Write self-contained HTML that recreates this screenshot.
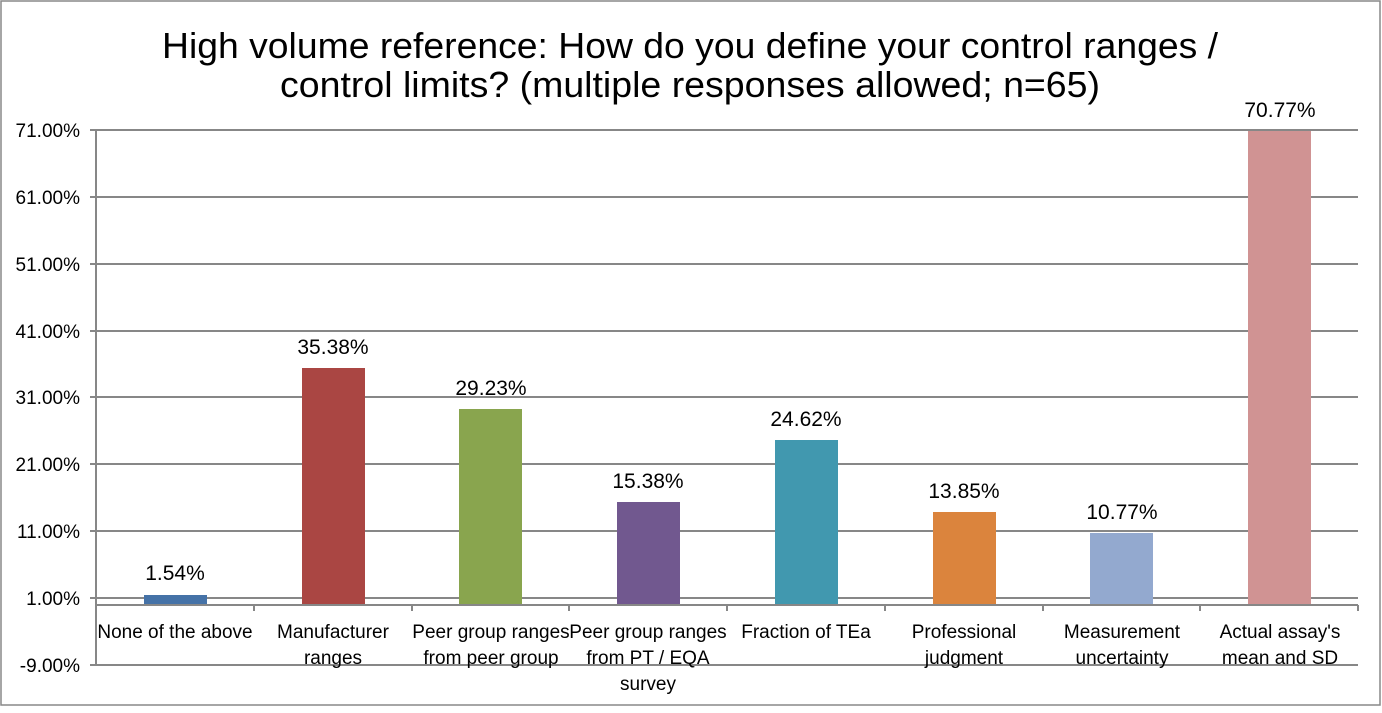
<!DOCTYPE html>
<html><head><meta charset="utf-8"><style>
body{margin:0;background:#fff;}
svg text{font-family:"Liberation Sans",Arial,sans-serif;}
</style></head><body>
<svg width="1382" height="708" xmlns="http://www.w3.org/2000/svg">
<rect x="1" y="1" width="1379" height="704" fill="#fff" stroke="#888" stroke-width="1.5"/>
<text x="690" y="58" font-size="36" text-anchor="middle" fill="#000" textLength="1056" lengthAdjust="spacingAndGlyphs">High volume reference: How do you define your control ranges /</text>
<text x="690" y="97" font-size="36" text-anchor="middle" fill="#000" textLength="820" lengthAdjust="spacingAndGlyphs">control limits? (multiple responses allowed; n=65)</text>
<g stroke="#878787" stroke-width="2">
<line x1="90" y1="130" x2="1358" y2="130"/>
<line x1="90" y1="197" x2="1358" y2="197"/>
<line x1="90" y1="264" x2="1358" y2="264"/>
<line x1="90" y1="331" x2="1358" y2="331"/>
<line x1="90" y1="397" x2="1358" y2="397"/>
<line x1="90" y1="464" x2="1358" y2="464"/>
<line x1="90" y1="531" x2="1358" y2="531"/>
<line x1="90" y1="598" x2="1358" y2="598"/>
<line x1="90" y1="665" x2="1358" y2="665"/>
<line x1="96" y1="130" x2="96" y2="665"/>
</g>
<g font-size="19" fill="#000" text-anchor="end">
<text x="80" y="137">71.00%</text><text x="80" y="204">61.00%</text><text x="80" y="271">51.00%</text>
<text x="80" y="338">41.00%</text><text x="80" y="404">31.00%</text><text x="80" y="471">21.00%</text>
<text x="80" y="538">11.00%</text><text x="80" y="605">1.00%</text><text x="80" y="672">-9.00%</text>
</g>
<g>
<rect x="144" y="595" width="63" height="10" fill="#4572a7"/>
<rect x="302" y="368" width="63" height="237" fill="#aa4643"/>
<rect x="459" y="409" width="63" height="196" fill="#89a54e"/>
<rect x="617" y="502" width="63" height="103" fill="#71588f"/>
<rect x="775" y="440" width="63" height="165" fill="#4198af"/>
<rect x="933" y="512" width="63" height="93" fill="#db843d"/>
<rect x="1090" y="533" width="63" height="72" fill="#93a9cf"/>
<rect x="1248" y="131" width="63" height="474" fill="#d09393"/>
</g>
<g stroke="#878787" stroke-width="2">
<line x1="96" y1="605" x2="1358" y2="605"/>
<line x1="254" y1="605" x2="254" y2="611"/><line x1="412" y1="605" x2="412" y2="611"/>
<line x1="569" y1="605" x2="569" y2="611"/><line x1="727" y1="605" x2="727" y2="611"/>
<line x1="885" y1="605" x2="885" y2="611"/><line x1="1043" y1="605" x2="1043" y2="611"/>
<line x1="1200" y1="605" x2="1200" y2="611"/><line x1="1358" y1="605" x2="1358" y2="611"/>
</g>
<g font-size="21" fill="#000" text-anchor="middle">
<text x="175" y="580">1.54%</text><text x="333" y="354">35.38%</text><text x="491" y="395">29.23%</text>
<text x="648" y="488">15.38%</text><text x="806" y="426">24.62%</text><text x="964" y="498">13.85%</text>
<text x="1122" y="519">10.77%</text><text x="1280" y="117">70.77%</text>
</g>
<g font-size="19" fill="#000" text-anchor="middle">
<text x="175" y="638">None of the above</text>
<text x="333" y="638">Manufacturer</text><text x="333" y="664">ranges</text>
<text x="491" y="638">Peer group ranges</text><text x="491" y="664">from peer group</text>
<text x="648" y="638">Peer group ranges</text><text x="648" y="664">from PT / EQA</text><text x="648" y="690">survey</text>
<text x="806" y="638">Fraction of TEa</text>
<text x="964" y="638">Professional</text><text x="964" y="664">judgment</text>
<text x="1122" y="638">Measurement</text><text x="1122" y="664">uncertainty</text>
<text x="1280" y="638">Actual assay's</text><text x="1280" y="664">mean and SD</text>
</g>
</svg>
</body></html>
